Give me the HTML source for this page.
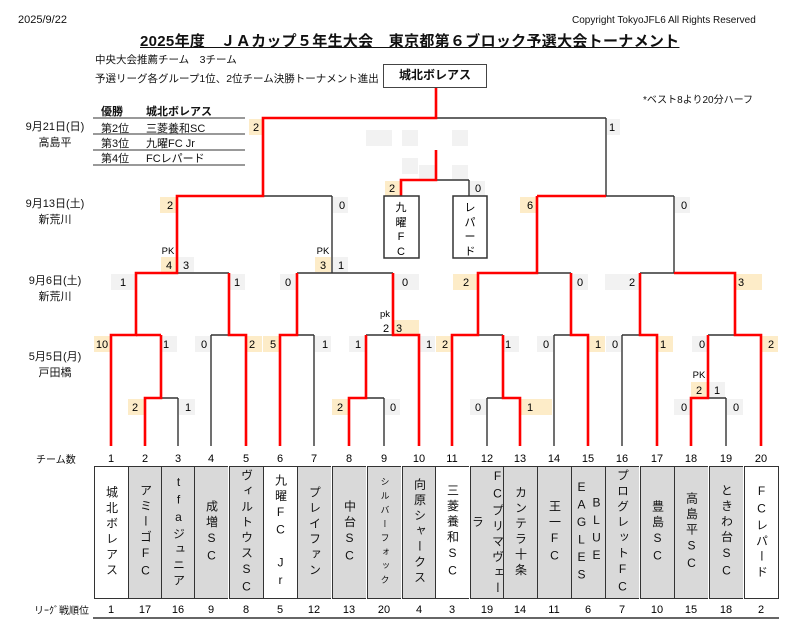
<!DOCTYPE html>
<html><head><meta charset="utf-8">
<style>
body{margin:0;width:800px;height:633px;background:#fff;position:relative;overflow:hidden;font-family:"Liberation Sans","Noto Sans CJK JP",sans-serif;color:#111}
.a{position:absolute;white-space:nowrap}
.tb{position:absolute;top:466px;height:133px;width:34px;box-sizing:border-box;border:1.5px solid #333;border-right:none;background:#d9d9d9;display:flex;align-items:center;justify-content:center}
.tb.w{background:#fff}
.tb span{writing-mode:vertical-rl;text-orientation:upright;font-size:12px;letter-spacing:3.5px;line-height:20px}
.c{text-align:center;width:120px}
</style></head><body>
<div class="a" style="left:18px;top:14px;font-size:11px">2025/9/22</div>
<div class="a" style="left:572px;top:15px;font-size:10px">Copyright TokyoJFL6 All Rights Reserved</div>
<div class="a" style="left:140px;top:30px;font-size:15px;font-weight:bold;text-decoration:underline;letter-spacing:0.3px">2025年度　ＪＡカップ５年生大会　東京都第６ブロック予選大会トーナメント</div>
<div class="a" style="left:95px;top:52px;font-size:10.5px">中央大会推薦チーム　3チーム</div>
<div class="a" style="left:95px;top:71px;font-size:10.5px">予選リーグ各グループ1位、2位チーム決勝トーナメント進出</div>
<div class="a" style="left:643px;top:91px;font-size:10px">*ベスト8より20分ハーフ</div>
<div class="a" style="left:383px;top:64px;width:104px;height:24px;box-sizing:border-box;border:1.5px solid #444;font-weight:bold;font-size:12px;text-align:center;line-height:21px">城北ボレアス</div>
<div class="a" style="left:101px;top:103px;font-size:11px;font-weight:bold">優勝</div>
<div class="a" style="left:146px;top:103px;font-size:11px;font-weight:bold">城北ボレアス</div>
<div class="a" style="left:101px;top:120px;font-size:11px">第2位</div><div class="a" style="left:146px;top:120px;font-size:11px">三菱養和SC</div>
<div class="a" style="left:101px;top:135px;font-size:11px">第3位</div><div class="a" style="left:146px;top:135px;font-size:11px">九曜FC Jr</div>
<div class="a" style="left:101px;top:150px;font-size:11px">第4位</div><div class="a" style="left:146px;top:150px;font-size:11px">FCレパード</div>
<div class="a c" style="left:-5px;top:119px;font-size:11px;line-height:16px">9月21日(日)<br>高島平</div>
<div class="a c" style="left:-5px;top:196px;font-size:11px;line-height:16px">9月13日(土)<br>新荒川</div>
<div class="a c" style="left:-5px;top:273px;font-size:11px;line-height:16px">9月6日(土)<br>新荒川</div>
<div class="a c" style="left:-5px;top:349px;font-size:11px;line-height:16px">5月5日(月)<br>戸田橋</div>
<div class="a" style="left:36px;top:451px;font-size:10px">チーム数</div>
<div class="a" style="left:34px;top:602px;font-size:10px">リｰｸﾞ戦順位</div>

<svg class="a" style="left:0;top:0" width="800" height="633" font-family="Liberation Sans, Noto Sans CJK JP, sans-serif" font-size="11">
<g stroke="#333" stroke-width="1" fill="none">
<line x1="93" y1="118" x2="245" y2="118"/><line x1="93" y1="134" x2="245" y2="134"/><line x1="93" y1="150" x2="245" y2="150"/><line x1="93" y1="165" x2="245" y2="165"/>
<line x1="93" y1="618" x2="779" y2="618" stroke-width="1.5"/>
</g>
<!-- score boxes -->
<g stroke="none">
<g fill="#fdecc8">
<rect x="249" y="119" width="14" height="16"/><rect x="160" y="197" width="16" height="16"/><rect x="520" y="197" width="16" height="16"/>
<rect x="385" y="181" width="15" height="15"/>
<rect x="161" y="257" width="15" height="15"/><rect x="315" y="257" width="16" height="15"/>
<rect x="453" y="274" width="24" height="16"/><rect x="736" y="274" width="26" height="16"/>
<rect x="94" y="336" width="16" height="16"/><rect x="247" y="336" width="15" height="16"/><rect x="263" y="336" width="16" height="16"/>
<rect x="394" y="320" width="25" height="14"/><rect x="436" y="336" width="15" height="16"/><rect x="589" y="336" width="16" height="16"/>
<rect x="658" y="336" width="15" height="16"/><rect x="762" y="336" width="16" height="16"/>
<rect x="128" y="399" width="16" height="16"/><rect x="332" y="399" width="16" height="16"/><rect x="521" y="399" width="31" height="16"/>
<rect x="691" y="382" width="16" height="15"/>
</g>
<g fill="#f2f2f2">
<rect x="607" y="119" width="13" height="16"/><rect x="333" y="197" width="15" height="16"/><rect x="675" y="197" width="15" height="16"/>
<rect x="470" y="181" width="15" height="15"/><rect x="178" y="257" width="16" height="15"/><rect x="333" y="257" width="15" height="15"/>
<rect x="111" y="274" width="24" height="16"/><rect x="230" y="274" width="15" height="16"/><rect x="280" y="274" width="16" height="16"/>
<rect x="394" y="274" width="25" height="16"/><rect x="572" y="274" width="16" height="16"/><rect x="605" y="274" width="34" height="16"/>
<rect x="162" y="336" width="15" height="16"/><rect x="195" y="336" width="15" height="16"/><rect x="315" y="336" width="16" height="16"/>
<rect x="349" y="336" width="16" height="16"/><rect x="420" y="336" width="15" height="16"/><rect x="504" y="336" width="15" height="16"/>
<rect x="537" y="336" width="16" height="16"/><rect x="606" y="336" width="15" height="16"/><rect x="692" y="336" width="15" height="16"/>
<rect x="179" y="399" width="16" height="16"/><rect x="385" y="399" width="15" height="16"/><rect x="470" y="399" width="16" height="16"/>
<rect x="674" y="399" width="16" height="16"/><rect x="727" y="399" width="16" height="16"/><rect x="709" y="382" width="16" height="15"/>
<rect x="366" y="130" width="26" height="16"/><rect x="402" y="130" width="16" height="16"/><rect x="452" y="130" width="16" height="16"/>
<rect x="402" y="158" width="16" height="16"/><rect x="419" y="165" width="16" height="14"/><rect x="452" y="165" width="16" height="14"/>
</g>
</g>
<!-- black lines -->
<g stroke="#333" stroke-width="1.4" fill="none">
<path d="M263 118H606M177 196H332M537 196H674M401 180H469M136 273H229M297 273H393M478 273H571M640 273H735"/>
<path d="M111 335H161M211 335H246M280 335H314M366 335H419M452 335H503M554 335H588M622 335H657M708 335H761"/>
<path d="M145 398H178M349 398H384M487 398H520M691 398H726"/>
<path d="M111 446V335M145 446V398M178 446V398M211 446V335M246 446V335M280 446V335M314 446V335M349 446V398M384 446V398M419 446V335M452 446V335M487 446V398M520 446V398M554 446V335M588 446V335M622 446V335M657 446V335M691 446V398M726 446V398M761 446V335"/>
<path d="M332 273V196M606 196V118M674 273V196M469 180V196"/>
</g>
<!-- red lines -->
<g stroke="#f00" stroke-width="2.6" fill="none" stroke-linejoin="miter">
<path d="M436 88V118H263V196H177V273H136V335H111V446"/>
<path d="M136 335V335M161 335V398H145V446"/>
<path d="M229 273V335H246V446"/>
<path d="M297 273V335H280V446"/>
<path d="M393 273V335H419V446"/>
<path d="M366 335V398H349V446"/>
<path d="M537 196H606M537 196V273H478V335H452V446"/>
<path d="M503 335V398H520V446"/>
<path d="M571 273V335H588V446"/>
<path d="M640 273V335H657V446"/>
<path d="M674 273H735V335H761V446"/>
<path d="M708 335V398H691V446"/>
<path d="M436 150V180H401V196"/>
<path d="M161 335H136"/>
</g>
<!-- 3rd place boxes -->
<g stroke="#333" stroke-width="1.5" fill="#fff">
<rect x="384" y="196" width="35" height="62"/><rect x="453" y="196" width="34" height="62"/>
</g>
<g font-size="11" text-anchor="middle">
<text x="401" y="211">九</text><text x="401" y="226">曜</text><text x="401" y="240">F</text><text x="401" y="255">C</text>
<text x="470" y="211">レ</text><text x="470" y="226">パ</text><text x="470" y="240">ー</text><text x="470" y="255">ド</text>
</g>
<!-- scores -->
<g font-size="11" text-anchor="middle">
<text x="256" y="131">2</text><text x="612" y="131">1</text>
<text x="170" y="209">2</text><text x="342" y="209">0</text><text x="530" y="209">6</text><text x="684" y="209">0</text>
<text x="392" y="192">2</text><text x="478" y="192">0</text>
<text x="169" y="269">4</text><text x="186" y="269">3</text><text x="323" y="269">3</text><text x="341" y="269">1</text>
<text x="123" y="286">1</text><text x="237" y="286">1</text><text x="288" y="286">0</text><text x="405" y="286">0</text>
<text x="466" y="286">2</text><text x="580" y="286">0</text><text x="632" y="286">2</text><text x="741" y="286">3</text>
<text x="102" y="348">10</text><text x="166" y="348">1</text><text x="204" y="348">0</text><text x="252" y="348">2</text>
<text x="273" y="348">5</text><text x="325" y="348">1</text><text x="358" y="348">1</text><text x="429" y="348">1</text>
<text x="386" y="332">2</text><text x="399" y="332">3</text>
<text x="445" y="348">2</text><text x="508" y="348">1</text><text x="546" y="348">0</text><text x="598" y="348">1</text>
<text x="615" y="348">0</text><text x="663" y="348">1</text><text x="702" y="348">0</text><text x="771" y="348">2</text>
<text x="135" y="411">2</text><text x="188" y="411">1</text><text x="340" y="411">2</text><text x="393" y="411">0</text>
<text x="478" y="411">0</text><text x="530" y="411">1</text><text x="684" y="411">0</text><text x="736" y="411">0</text>
<text x="699" y="394">2</text><text x="717" y="394">1</text>
</g>
<g font-size="9.5" text-anchor="middle">
<text x="168" y="254">PK</text><text x="323" y="254">PK</text><text x="385" y="317">pk</text><text x="699" y="378">PK</text>
</g>
<g font-size="11" text-anchor="middle">
<text x="111" y="462">1</text><text x="145" y="462">2</text><text x="178" y="462">3</text><text x="211" y="462">4</text><text x="246" y="462">5</text>
<text x="280" y="462">6</text><text x="314" y="462">7</text><text x="349" y="462">8</text><text x="384" y="462">9</text><text x="419" y="462">10</text>
<text x="452" y="462">11</text><text x="487" y="462">12</text><text x="520" y="462">13</text><text x="554" y="462">14</text><text x="588" y="462">15</text>
<text x="622" y="462">16</text><text x="657" y="462">17</text><text x="691" y="462">18</text><text x="726" y="462">19</text><text x="761" y="462">20</text>
<text x="111" y="613">1</text><text x="145" y="613">17</text><text x="178" y="613">16</text><text x="211" y="613">9</text><text x="246" y="613">8</text>
<text x="280" y="613">5</text><text x="314" y="613">12</text><text x="349" y="613">13</text><text x="384" y="613">20</text><text x="419" y="613">4</text>
<text x="452" y="613">3</text><text x="487" y="613">19</text><text x="520" y="613">14</text><text x="554" y="613">11</text><text x="588" y="613">6</text>
<text x="622" y="613">7</text><text x="657" y="613">10</text><text x="691" y="613">15</text><text x="726" y="613">18</text><text x="761" y="613">2</text>
</g>
</svg>

<div class="tb w" style="left:94px"><span>城北ボレアス</span></div>
<div class="tb" style="left:128px"><span>アミーゴFC</span></div>
<div class="tb" style="left:161px"><span>tfaジュニア</span></div>
<div class="tb" style="left:194px"><span>成増SC</span></div>
<div class="tb" style="left:229px"><span>ヴィルトウスSC</span></div>
<div class="tb w" style="left:263px"><span>九曜FC　Jr</span></div>
<div class="tb" style="left:297px"><span>プレイファン</span></div>
<div class="tb" style="left:332px"><span>中台SC</span></div>
<div class="tb" style="left:367px"><span style="font-size:9px;letter-spacing:5px">シルバーフォック</span></div>
<div class="tb" style="left:402px"><span>向原シャークス</span></div>
<div class="tb w" style="left:435px"><span>三菱養和SC</span></div>
<div class="tb" style="left:470px"><span>FCプリマヴェー<br>　　　ラ</span></div>
<div class="tb" style="left:503px"><span>カンテラ十条</span></div>
<div class="tb" style="left:537px"><span>王一FC</span></div>
<div class="tb" style="left:571px"><span style="line-height:15px">　BLUE<br>EAGLES</span></div>
<div class="tb" style="left:605px"><span>プログレットFC</span></div>
<div class="tb" style="left:640px"><span>豊島SC</span></div>
<div class="tb" style="left:674px"><span>高島平SC</span></div>
<div class="tb" style="left:709px"><span>ときわ台SC</span></div>
<div class="tb w" style="left:744px;width:35px;border-right:1.5px solid #333"><span>FCレパード</span></div>
</body></html>
